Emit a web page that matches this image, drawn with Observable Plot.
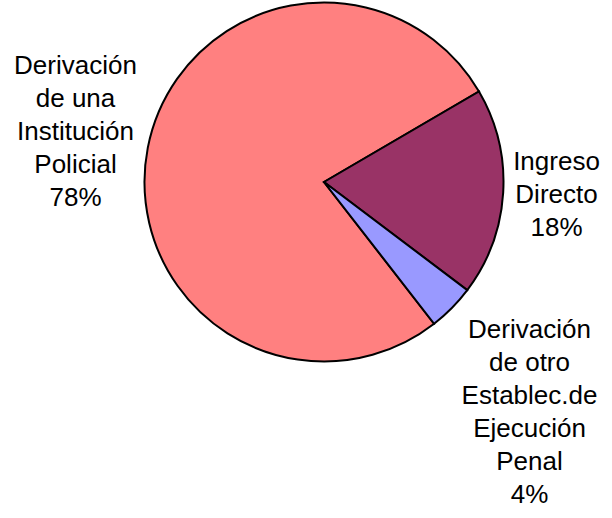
<!DOCTYPE html>
<html>
<head>
<meta charset="utf-8">
<script src="https://cdn.jsdelivr.net/npm/d3@7"></script>
<script src="https://cdn.jsdelivr.net/npm/@observablehq/plot@0.6"></script>
<style>
  html, body { margin: 0; padding: 0; background: #ffffff; }
  #chart { width: 612px; height: 518px; }
</style>
</head>
<body>
<div id="chart"></div>
<script>
// ---- data ----
const categories = [
  "Derivación\nde una\nInstitución\nPolicial",
  "Ingreso\nDirecto",
  "Derivación\nde otro\nEstablec.de\nEjecución\nPenal"
];
const values = [77.1, 18.7, 4.2];
const percentLabels = ["78%", "18%", "4%"];

// ---- styles / layout ----
const sliceColors = ["#FF8080", "#993366", "#9999FF"];
const W = 612, H = 518;
const center = [324, 182];
const radius = 179.5;
const startDeg = 142.16;
// label anchors (top-centre of each text block)
const labelAnchor = [[75, 49.9], [556, 146.1], [529, 313.6]];

const slices = categories.map((c, i) => ({category: c, value: values[i], color: sliceColors[i]}));
const labels = categories.map((c, i) => ({
  text: c + "\n" + percentLabels[i],
  x: labelAnchor[i][0],
  y: labelAnchor[i][1]
}));

const pie = d3.pie().sort(null).value(d => d.value)
  .startAngle(startDeg * Math.PI / 180)
  .endAngle(startDeg * Math.PI / 180 + 2 * Math.PI);
const arcs = pie(slices);
const arcGen = d3.arc().innerRadius(0).outerRadius(radius);

function pieMark(index, scales) {
  const g = d3.create("svg:g")
    .attr("transform", `translate(${scales.x(center[0])},${scales.y(center[1])})`);
  g.selectAll("path")
    .data(arcs)
    .join("path")
    .attr("d", arcGen)
    .attr("fill", d => d.data.color)
    .attr("stroke", "#000")
    .attr("stroke-width", 2)
    .attr("stroke-linejoin", "miter");
  return g.node();
}

const chart = Plot.plot({
  width: W,
  height: H,
  margin: 0,
  x: {type: "identity", axis: null},
  y: {type: "identity", axis: null},
  style: {background: "#ffffff", fontFamily: "'Liberation Sans', Arial, sans-serif"},
  marks: [
    pieMark,
    Plot.text(labels, {
      x: "x",
      y: "y",
      text: "text",
      fontSize: 26,
      lineHeight: 1.27,
      lineAnchor: "top",
      textAnchor: "middle",
      fill: "#000000",
      fontFamily: "'Liberation Sans', Arial, sans-serif"
    })
  ]
});
document.getElementById("chart").appendChild(chart);
</script>
</body>
</html>
